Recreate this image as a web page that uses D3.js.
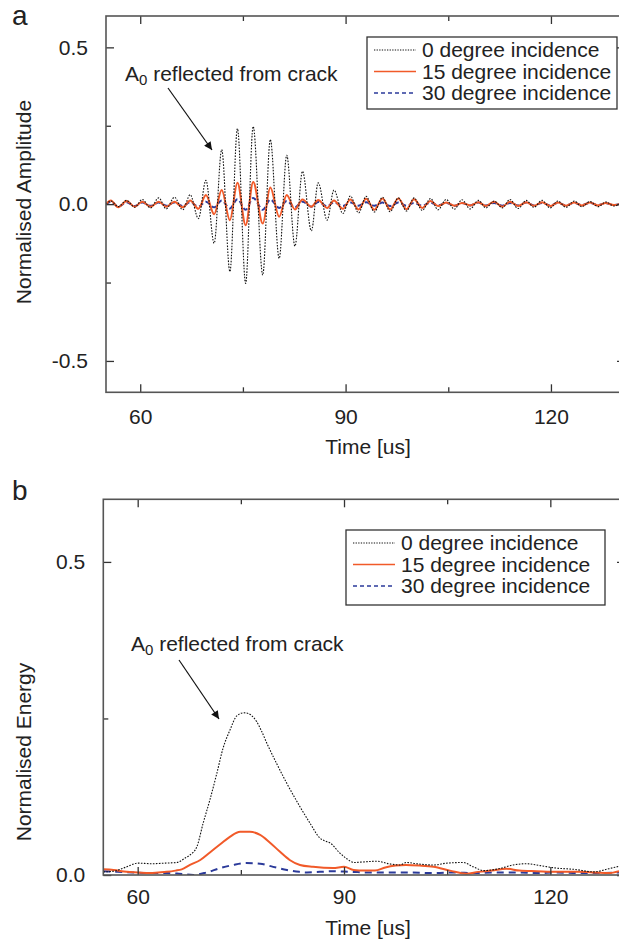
<!DOCTYPE html>
<html>
<head>
<meta charset="utf-8">
<script src="https://cdn.jsdelivr.net/npm/d3@7"></script>
<style>
  html, body { margin: 0; padding: 0; background: #fff; }
  svg { display: block; }
  text { font-family: "Liberation Sans", Arial, Helvetica, sans-serif; fill: #222; }
</style>
</head>
<body>
<svg id="chart" width="619" height="942"></svg>
<script>
// ---------------- DATA ----------------
const seriesNames = ["0 degree incidence", "15 degree incidence", "30 degree incidence"];
const xTicksMajor = [60, 90, 120];
const xTicksMinor = [75, 105];
const ampTicksMajor = [-0.5, 0.0, 0.5];
const ampTicksMinor = [-0.25, 0.25];
const energyTicksMajor = [0.0, 0.5];
const energyTicksMinor = [0.25];

// (a) waveform extrema times [us] (peaks / troughs)
const waveTime = [55.0, 55.7, 56.8, 58.0, 59.2, 60.3, 61.5, 62.7, 63.8, 65.0, 66.2, 67.3,
  68.5, 69.6, 70.8, 71.9, 73.1, 74.2, 75.4, 76.5, 77.9, 79.0, 80.3, 81.4, 82.6, 83.7,
  85.0, 86.0, 87.3, 88.3, 89.6, 90.7, 91.9, 93.0, 94.2, 95.4, 96.5, 97.7, 98.9, 100.0,
  101.2, 102.4, 103.5, 104.7, 105.9, 107.0, 108.2, 109.4, 110.5, 111.7, 112.9, 114.0,
  115.2, 116.4, 117.5, 118.7, 119.9, 121.0, 122.2, 123.4, 124.5, 125.7, 126.9, 128.0,
  129.2, 130.0];
const amp0 = [0.0, 0.010, -0.008, 0.012, -0.010, 0.015, -0.012, 0.020, -0.015, 0.022, -0.018, 0.030,
  -0.046, 0.076, -0.125, 0.174, -0.215, 0.241, -0.253, 0.248, -0.226, 0.206, -0.173, 0.156,
  -0.134, 0.105, -0.085, 0.068, -0.051, 0.045, -0.030, 0.026, -0.028, 0.025, -0.025, 0.022,
  -0.024, 0.020, -0.022, 0.020, -0.020, 0.018, -0.018, 0.015, -0.016, 0.014, -0.015, 0.012,
  -0.012, 0.010, -0.012, 0.015, -0.014, 0.012, -0.010, 0.012, -0.012, 0.010, -0.010, 0.010,
  -0.008, 0.008, -0.008, 0.007, -0.006, 0.0];
const amp15 = [0.0, 0.012, -0.010, 0.010, -0.008, 0.008, -0.008, 0.008, -0.008, 0.008, -0.010, 0.012,
  -0.015, 0.029, -0.032, 0.045, -0.051, 0.068, -0.067, 0.071, -0.062, 0.053, -0.040, 0.029,
  -0.017, 0.015, -0.008, 0.013, -0.012, 0.012, -0.015, 0.015, -0.017, 0.017, -0.018, 0.018,
  -0.017, 0.018, -0.016, 0.016, -0.012, 0.010, -0.006, 0.005, -0.005, 0.004, -0.004, 0.006,
  -0.006, 0.008, -0.008, 0.008, -0.006, 0.006, -0.005, 0.006, -0.006, 0.005, -0.005, 0.005,
  -0.004, 0.005, -0.004, 0.004, -0.003, 0.0];
const amp30 = [0.0, 0.008, -0.008, 0.006, -0.006, 0.005, -0.005, 0.005, -0.005, 0.005, -0.006, 0.006,
  -0.008, 0.008, -0.010, 0.012, -0.014, 0.016, -0.018, 0.020, -0.018, 0.015, -0.012, 0.010,
  -0.010, 0.008, -0.008, 0.007, -0.007, 0.006, -0.006, 0.005, -0.005, 0.006, -0.005, 0.005,
  -0.006, 0.005, -0.005, 0.004, -0.005, 0.005, -0.004, 0.004, -0.005, 0.004, -0.004, 0.005,
  -0.004, 0.004, -0.005, 0.004, -0.004, 0.005, -0.004, 0.004, -0.004, 0.004, -0.004, 0.004,
  -0.003, 0.004, -0.003, 0.003, -0.003, 0.0];

// (b) energy envelopes
const energyT0 = [55.0, 56.5, 58.4, 60.0, 62.0, 64.0, 65.7, 66.9, 67.6, 68.6, 69.5, 70.5, 71.5, 72.4,
  73.4, 74.4, 75.4, 76.1, 76.8, 77.3, 78.0, 78.8, 80.2, 81.7, 83.6, 85.1, 86.5, 87.3, 88.0,
  89.4, 90.4, 91.4, 93.0, 94.8, 96.5, 98.1, 99.1, 100.5, 103.0, 105.0, 107.3, 108.8, 110.3,
  112.5, 114.6, 116.6, 118.5, 120.9, 123.5, 126.3, 128.5, 130.0];
const energy0 = [0.005, 0.006, 0.013, 0.019, 0.018, 0.019, 0.020, 0.027, 0.032, 0.045, 0.082, 0.120,
  0.162, 0.202, 0.231, 0.254, 0.259, 0.258, 0.252, 0.245, 0.230, 0.210, 0.178, 0.146, 0.109,
  0.082, 0.059, 0.054, 0.051, 0.035, 0.026, 0.020, 0.021, 0.022, 0.018, 0.016, 0.020, 0.018,
  0.016, 0.019, 0.020, 0.013, 0.007, 0.010, 0.016, 0.018, 0.015, 0.011, 0.009, 0.005, 0.010, 0.014];
const energyT15 = [55.0, 56.5, 58.4, 60.0, 61.8, 63.0, 64.2, 65.5, 66.4, 67.6, 69.1, 70.5, 72.0, 73.4,
  74.9, 76.3, 77.8, 79.2, 80.7, 82.1, 83.6, 85.5, 88.4, 90.0, 91.4, 93.0, 94.5, 96.0, 97.5,
  99.0, 101.0, 103.0, 105.4, 107.8, 109.5, 111.5, 113.6, 115.5, 118.0, 121.0, 124.0, 126.5,
  128.5, 130.0];
const energy15 = [0.009, 0.008, 0.005, 0.004, 0.003, 0.004, 0.005, 0.007, 0.009, 0.016, 0.024, 0.036,
  0.049, 0.061, 0.069, 0.069, 0.064, 0.052, 0.037, 0.024, 0.016, 0.013, 0.011, 0.013, 0.008,
  0.007, 0.007, 0.012, 0.015, 0.016, 0.015, 0.013, 0.007, 0.002, 0.005, 0.007, 0.010, 0.007,
  0.006, 0.005, 0.005, 0.004, 0.003, 0.006];
const energyT30 = [55.0, 57.0, 59.3, 62.0, 64.2, 66.0, 68.1, 70.0, 72.0, 73.9, 75.8, 77.8, 79.7, 81.7,
  83.5, 84.6, 86.5, 88.4, 91.0, 94.0, 97.0, 100.0, 103.0, 106.0, 109.0, 112.0, 115.0, 118.0,
  121.0, 124.0, 127.0, 130.0];
const energy30 = [0.006, 0.005, 0.004, 0.003, 0.003, 0.002, 0.000, 0.004, 0.011, 0.016, 0.019, 0.018,
  0.013, 0.008, 0.005, 0.004, 0.005, 0.006, 0.005, 0.004, 0.004, 0.004, 0.003, 0.004, 0.003,
  0.004, 0.004, 0.003, 0.004, 0.003, 0.003, 0.004];

// ---------------- STYLES ----------------
const FS = 21;
const styles = [
  { color: "#111", width: 1.1, dash: "1.6,1.4" },
  { color: "#f15a29", width: 2, dash: null },
  { color: "#2b3a9a", width: 2, dash: "5,3" }
];

const svg = d3.select("#chart");
const defs = svg.append("defs");
defs.append("marker").attr("id", "arrow").attr("viewBox", "0 0 10 10")
  .attr("refX", 10).attr("refY", 5).attr("markerWidth", 11).attr("markerHeight", 8)
  .attr("markerUnits", "userSpaceOnUse").attr("orient", "auto")
  .append("path").attr("d", "M0,0 L10,5 L0,10 Z").attr("fill", "#111");

function zip(t, v) { return t.map((d, i) => ({ t: d, v: v[i] })); }
const fmtY = d => d3.format(".1f")(d).replace("\u2212", "-");

function panel(cfg) {
  const x = d3.scaleLinear().domain([55, 130]).range([cfg.left, cfg.right]);
  const y = d3.scaleLinear().domain(cfg.yDomain).range([cfg.bottom, cfg.top]);
  const frameRight = cfg.frameRight;
  const g = svg.append("g");
  const clipId = "clip" + cfg.id;
  defs.append("clipPath").attr("id", clipId).append("rect")
    .attr("x", cfg.left).attr("y", cfg.top).attr("width", frameRight - cfg.left).attr("height", cfg.bottom - cfg.top);

  // data
  const line = d3.line().x(d => x(d.t)).y(d => y(d.v)).curve(d3.curveMonotoneX);
  const dg = g.append("g").attr("clip-path", `url(#${clipId})`);
  cfg.series.slice().reverse().forEach((s) => {
    const st = styles[s.style];
    dg.append("path").datum(zip(s.t, s.v)).attr("d", line)
      .attr("fill", "none").attr("stroke", st.color).attr("stroke-width", st.width)
      .attr("stroke-dasharray", s.dash || st.dash).attr("stroke-linejoin", "round");
  });

  // axes (box with inward ticks)
  const axisColor = "#555";
  const axB = d3.axisBottom(x).tickValues(xTicksMajor).tickSize(-8).tickFormat(d3.format("d")).tickPadding(cfg.xPad);
  g.append("g").attr("transform", `translate(0,${cfg.bottom})`).call(axB);
  const axBm = d3.axisBottom(x).tickValues(xTicksMinor).tickSize(-5).tickFormat("");
  g.append("g").attr("transform", `translate(0,${cfg.bottom})`).call(axBm);
  const axT = d3.axisTop(x).tickValues(xTicksMajor).tickSize(-8).tickFormat("");
  g.append("g").attr("transform", `translate(0,${cfg.top})`).call(axT);
  const axTm = d3.axisTop(x).tickValues(xTicksMinor).tickSize(-5).tickFormat("");
  g.append("g").attr("transform", `translate(0,${cfg.top})`).call(axTm);

  const axL = d3.axisLeft(y).tickValues(cfg.yMajor).tickSize(-8).tickFormat(fmtY).tickPadding(18);
  g.append("g").attr("transform", `translate(${cfg.left},0)`).call(axL);
  const axLm = d3.axisLeft(y).tickValues(cfg.yMinor).tickSize(-5).tickFormat("");
  g.append("g").attr("transform", `translate(${cfg.left},0)`).call(axLm);
  const axR = d3.axisRight(y).tickValues(cfg.yMajor).tickSize(-8).tickFormat("");
  g.append("g").attr("transform", `translate(${frameRight},0)`).call(axR);
  const axRm = d3.axisRight(y).tickValues(cfg.yMinor).tickSize(-5).tickFormat("");
  g.append("g").attr("transform", `translate(${frameRight},0)`).call(axRm);

  g.selectAll(".domain").remove();
  g.selectAll(".tick line").attr("stroke", "#333").attr("stroke-width", 1.3);
  g.selectAll(".tick text").attr("font-size", FS).attr("fill", "#222")
    .style("font-family", '"Liberation Sans", Arial, Helvetica, sans-serif');
  g.append("rect").attr("x", cfg.left).attr("y", cfg.top)
    .attr("width", frameRight - cfg.left).attr("height", cfg.bottom - cfg.top)
    .attr("fill", "none").attr("stroke", axisColor).attr("stroke-width", 1.6);

  // titles
  g.append("text").attr("x", 368).attr("y", cfg.xTitleY)
    .attr("text-anchor", "middle").attr("font-size", FS).text("Time [us]");
  g.append("text").attr("transform", `translate(${31},${cfg.yTitleY}) rotate(-90)`)
    .attr("text-anchor", "middle").attr("font-size", FS).text(cfg.yTitle);
  g.append("text").attr("x", cfg.letterX).attr("y", cfg.letterY).attr("font-size", 28).text(cfg.letter);

  // annotation
  const ann = g.append("text").attr("x", cfg.annX).attr("y", cfg.annY).attr("font-size", FS);
  ann.append("tspan").text("A");
  ann.append("tspan").attr("font-size", 15).attr("dy", 4).text("0");
  ann.append("tspan").attr("dy", -4).text(" reflected from crack");
  g.append("line").attr("x1", cfg.arrow[0]).attr("y1", cfg.arrow[1])
    .attr("x2", cfg.arrow[2]).attr("y2", cfg.arrow[3])
    .attr("stroke", "#111").attr("stroke-width", 1.2).attr("marker-end", "url(#arrow)");

  // legend
  const L = cfg.legend;
  const lg = g.append("g");
  lg.append("rect").attr("x", L.x).attr("y", L.y).attr("width", L.w).attr("height", L.h)
    .attr("fill", "#fff").attr("stroke", "#333").attr("stroke-width", 1.3);
  seriesNames.forEach((name, i) => {
    const st = styles[i];
    const by = L.y + L.first + i * L.step;
    lg.append("line").attr("x1", L.x + 7).attr("x2", L.x + 49).attr("y1", by - 7).attr("y2", by - 7)
      .attr("stroke", st.color).attr("stroke-width", i === 0 ? 1.1 : 1.6)
      .attr("stroke-dasharray", i === 0 ? "1.3,1.3" : (i === 2 ? "4,3" : null));
    lg.append("text").attr("x", L.x + 55).attr("y", by).attr("font-size", FS).text(name);
  });
}

panel({
  id: "a", letter: "a", letterX: 12, letterY: 25,
  left: 106, right: 619.4, frameRight: 625, top: 16, bottom: 392.3,
  yDomain: [-0.6, 0.6], yMajor: ampTicksMajor, yMinor: ampTicksMinor,
  yTitle: "Normalised Amplitude", yTitleY: 202, xTitleY: 454, xPad: 17,
  annX: 125, annY: 81, arrow: [168, 88, 212, 150],
  legend: { x: 367, y: 37, w: 250, h: 72, first: 20, step: 21.5 },
  series: [
    { t: waveTime, v: amp0, style: 0 },
    { t: waveTime, v: amp15, style: 1 },
    { t: waveTime, v: amp30, style: 2 }
  ]
});

panel({
  id: "b", letter: "b", letterX: 12, letterY: 500,
  left: 103.3, right: 619.1, frameRight: 625, top: 499.3, bottom: 875,
  yDomain: [0, 0.6], yMajor: energyTicksMajor, yMinor: energyTicksMinor,
  yTitle: "Normalised Energy", yTitleY: 752, xTitleY: 935, xPad: 14,
  annX: 131, annY: 651, arrow: [179, 660, 219, 719],
  legend: { x: 346, y: 530, w: 259, h: 75, first: 20, step: 21.5 },
  series: [
    { t: energyT0, v: energy0, style: 0 },
    { t: energyT15, v: energy15, style: 1 },
    { t: energyT30, v: energy30, style: 2, dash: "7,5" }
  ]
});
</script>
</body>
</html>
